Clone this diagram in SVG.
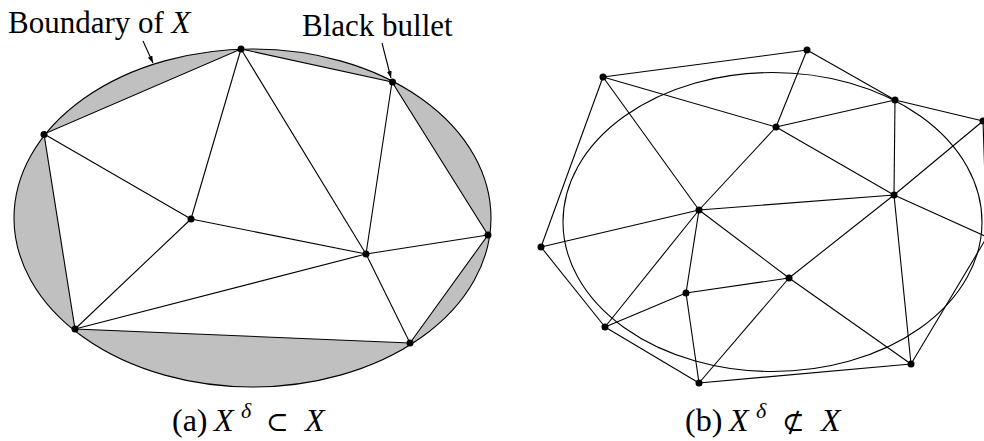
<svg xmlns="http://www.w3.org/2000/svg" width="984" height="441" viewBox="0 0 984 441">
<style>
.e{stroke:#000;stroke-width:1.1;fill:none}
.n{fill:#000}
.t{font-family:"Liberation Serif","DejaVu Serif",serif;font-size:31px;fill:#000}
.c{font-size:32px}
.i{font-style:italic}
.s{font-family:"DejaVu Serif","Liberation Serif",serif;font-size:27px}
</style>
<defs>
<marker id="ah" viewBox="0 0 10 10" refX="10" refY="5" markerWidth="7" markerHeight="7" orient="auto" markerUnits="userSpaceOnUse">
<path d="M0,1.5 L10,5 L0,8.5 z" fill="#000"/>
</marker>
</defs>
<g id="panel-a">
<ellipse cx="252.5" cy="218" rx="238.5" ry="169" fill="#c0c0c0" stroke="#000" stroke-width="1.1"/>
<polygon points="241,49 392,82 488,235 410,343 75,329 44,134" fill="#fff" stroke="#000" stroke-width="1.1"/>
</g>
<g id="connectors">
<g class="e">
<line x1="241" y1="49" x2="191" y2="219"/>
<line x1="241" y1="49" x2="366" y2="254"/>
<line x1="44" y1="134" x2="191" y2="219"/>
<line x1="392" y1="82" x2="366" y2="254"/>
<line x1="191" y1="219" x2="366" y2="254"/>
<line x1="191" y1="219" x2="75" y2="329"/>
<line x1="75" y1="329" x2="366" y2="254"/>
<line x1="366" y1="254" x2="410" y2="343"/>
<line x1="366" y1="254" x2="488" y2="235"/>
<line x1="143" y1="41" x2="153" y2="63" marker-end="url(#ah)"/>
<line x1="382" y1="43" x2="391" y2="78" marker-end="url(#ah)"/>
</g>
<g class="e">
<ellipse cx="772.5" cy="222" rx="209.5" ry="149.5"/>
<line x1="603" y1="77" x2="807" y2="50"/>
<line x1="807" y1="50" x2="895" y2="100"/>
<line x1="603" y1="77" x2="541" y2="247"/>
<line x1="603" y1="77" x2="776" y2="127"/>
<line x1="603" y1="77" x2="699" y2="210"/>
<line x1="807" y1="50" x2="776" y2="127"/>
<line x1="895" y1="100" x2="776" y2="127"/>
<line x1="895" y1="100" x2="983" y2="121"/>
<line x1="895" y1="100" x2="894" y2="195"/>
<line x1="776" y1="127" x2="894" y2="195"/>
<line x1="776" y1="127" x2="699" y2="210"/>
<line x1="983" y1="121" x2="894" y2="195"/>
<line x1="983" y1="121" x2="987" y2="237"/>
<line x1="699" y1="210" x2="894" y2="195"/>
<line x1="699" y1="210" x2="541" y2="247"/>
<line x1="699" y1="210" x2="686" y2="293"/>
<line x1="699" y1="210" x2="605" y2="327"/>
<line x1="699" y1="210" x2="789" y2="278"/>
<line x1="894" y1="195" x2="789" y2="278"/>
<line x1="894" y1="195" x2="911" y2="364"/>
<line x1="894" y1="195" x2="987" y2="237"/>
<line x1="911" y1="364" x2="987" y2="237"/>
<line x1="789" y1="278" x2="686" y2="293"/>
<line x1="789" y1="278" x2="699" y2="383"/>
<line x1="789" y1="278" x2="911" y2="364"/>
<line x1="686" y1="293" x2="605" y2="327"/>
<line x1="686" y1="293" x2="699" y2="383"/>
<line x1="541" y1="247" x2="605" y2="327"/>
<line x1="605" y1="327" x2="699" y2="383"/>
<line x1="699" y1="383" x2="911" y2="364"/>
</g>
</g>
<g id="nodes-a" class="n">
<circle id="a1" cx="241" cy="49" r="3.5"/>
<circle id="a2" cx="392.5" cy="82" r="3.5"/>
<circle id="a3" cx="44" cy="134.5" r="3.5"/>
<circle id="a4" cx="191" cy="219" r="3.5"/>
<circle id="a5" cx="366" cy="254" r="3.5"/>
<circle id="a6" cx="488" cy="235" r="3.5"/>
<circle id="a7" cx="75" cy="329" r="3.5"/>
<circle id="a8" cx="410" cy="343" r="3.5"/>
</g>
<g id="nodes-b" class="n">
<circle id="b1" cx="603" cy="77" r="3.5"/>
<circle id="b2" cx="807" cy="50" r="3.5"/>
<circle id="b3" cx="895" cy="100" r="3.5"/>
<circle id="b4" cx="983" cy="121" r="3.5"/>
<circle id="b5" cx="776" cy="127" r="3.5"/>
<circle id="b6" cx="894" cy="195" r="3.5"/>
<circle id="b7" cx="699" cy="210" r="3.5"/>
<circle id="b8" cx="541" cy="247" r="3.5"/>
<circle id="b9" cx="789" cy="278" r="3.5"/>
<circle id="b10" cx="686" cy="293" r="3.5"/>
<circle id="b11" cx="605" cy="327" r="3.5"/>
<circle id="b12" cx="699" cy="383" r="3.5"/>
<circle id="b13" cx="911" cy="364" r="3.5"/>
</g>
<g id="labels">
<text class="t" x="8" y="33">Boundary of <tspan class="i">X</tspan></text>
<text class="t" x="302" y="36">Black bullet</text>
<text class="t c" x="172" y="431">(a) <tspan class="i" x="214">X</tspan><tspan class="i" font-size="22" x="241" y="418">δ</tspan><tspan class="s" x="266" y="431">⊂</tspan><tspan class="i" x="305" y="431">X</tspan></text>
<text class="t c" x="685" y="431">(b) <tspan class="i" x="729">X</tspan><tspan class="i" font-size="22" x="756" y="418">δ</tspan><tspan class="s" x="782" y="431">⊄</tspan><tspan class="i" x="821" y="431">X</tspan></text>
</g>
</svg>
